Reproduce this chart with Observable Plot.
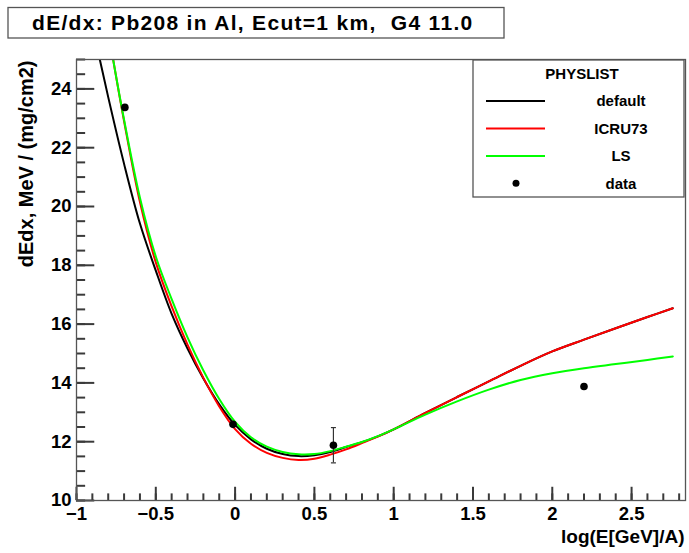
<!DOCTYPE html>
<html><head><meta charset="utf-8">
<script src="https://cdn.jsdelivr.net/npm/d3@7"></script>
<script src="https://cdn.jsdelivr.net/npm/@observablehq/plot@0.6"></script>
<style>body{margin:0;background:#fff} #chart{position:relative;width:689px;height:553px}</style>
</head><body><div id="chart"></div>
<script>
const titleText = "dE/dx: Pb208 in Al, Ecut=1 km,  G4 11.0";
const xLabel = "log(E[GeV]/A)";
const yLabel = "dEdx, MeV / (mg/cm2)";
const legendTitle = "PHYSLIST";
const seriesNames = ["default", "ICRU73", "LS"];
const seriesColors = ["#000000", "#ff0000", "#00ff00"];
const dataName = "data";

const defaultX = [-0.9, -0.853, -0.8, -0.7, -0.6, -0.5, -0.4, -0.3, -0.2, -0.1, 0, 0.1, 0.2, 0.3, 0.4, 0.5, 0.6, 0.7, 0.8, 0.9, 1.0, 1.2, 1.4, 1.6, 1.8, 2.0, 2.2, 2.4, 2.6, 2.76];
const defaultY = [26.1, 25.0, 23.72, 21.45, 19.42, 17.82, 16.35, 15.17, 14.15, 13.27, 12.57, 12.08, 11.76, 11.58, 11.51, 11.54, 11.65, 11.82, 11.98, 12.18, 12.42, 12.98, 13.52, 14.05, 14.58, 15.07, 15.47, 15.86, 16.24, 16.54];
const icruX = [-0.8, -0.769, -0.7, -0.6, -0.5, -0.4, -0.3, -0.2, -0.1, 0, 0.1, 0.2, 0.3, 0.4, 0.5, 0.6, 0.7, 0.8, 0.9, 1.0, 1.2, 1.4, 1.6, 1.8, 2.0, 2.2, 2.4, 2.6, 2.76];
const icruY = [26.0, 25.0, 22.9, 20.15, 18.1, 16.6, 15.3, 14.17, 13.2, 12.43, 11.93, 11.62, 11.45, 11.38, 11.42, 11.56, 11.74, 11.95, 12.17, 12.42, 12.98, 13.52, 14.05, 14.58, 15.07, 15.47, 15.86, 16.24, 16.54];
const lsX = [-0.8, -0.769, -0.7, -0.6, -0.5, -0.4, -0.3, -0.2, -0.1, 0, 0.1, 0.2, 0.3, 0.4, 0.5, 0.6, 0.7, 0.8, 0.9, 1.0, 1.2, 1.4, 1.6, 1.8, 2.0, 2.2, 2.4, 2.6, 2.76];
const lsY = [26.0, 25.0, 22.95, 20.3, 18.3, 16.85, 15.55, 14.42, 13.45, 12.67, 12.15, 11.83, 11.65, 11.57, 11.58, 11.68, 11.83, 11.99, 12.19, 12.42, 12.92, 13.37, 13.77, 14.1, 14.33, 14.5, 14.64, 14.78, 14.9];

const dataX = [-0.695, -0.013, 0.62, 2.2];
const dataY = [23.37, 12.59, 11.88, 13.88];
const dataErr = [0, 0, 0.6, 0];

const xTicks = [-1, -0.5, 0, 0.5, 1, 1.5, 2, 2.5];
const yTicks = [10, 12, 14, 16, 18, 20, 22, 24];
const xDomain = [-1, 2.84];
const yDomain = [10, 25];

const W = 689, H = 553, mL = 76, mT = 59, mR = 4, mB = 53;
const fW = W - mL - mR, fH = H - mT - mB;
const xMajLen = 0.03 * fH, yMajLen = 0.03 * fW;          // tick lengths in pixels
const yPerPx = (yDomain[1] - yDomain[0]) / fH, xPerPx = (xDomain[1] - xDomain[0]) / fW;
const font = "'Liberation Sans', Arial, Helvetica, sans-serif";
const frameColor = "#555";

const xs = [defaultX, icruX, lsX], ys = [defaultY, icruY, lsY];
const curves = seriesNames.flatMap((name, i) => xs[i].map((x, j) => ({name, x, y: ys[i][j]})));
const points = dataX.map((x, i) => ({x, y: dataY[i], e: dataErr[i]}));
const errPts = points.filter(d => d.e > 0);
const xMinor = d3.range(-1, 2.8401, 0.1).map(v => +v.toFixed(2));
const yMinor = d3.range(10, 25.001, 0.5);
const fmt = d => d < 0 ? "\u2212" + Math.abs(d) : String(d);

const capSymbol = {draw(ctx, size) { const r = Math.sqrt(size / Math.PI); ctx.moveTo(-r, 0); ctx.lineTo(r, 0); }};

const plot = Plot.plot({
  width: W, height: H, marginLeft: mL, marginTop: mT, marginRight: mR, marginBottom: mB,
  x: {domain: xDomain},
  y: {domain: yDomain},
  color: {domain: seriesNames, range: seriesColors},
  style: {fontFamily: font, fontWeight: "bold", color: "#000", background: "#fff", overflow: "visible"},
  marks: [
    Plot.ruleX(xMinor, {x: d => d, y1: yDomain[0], y2: yDomain[0] + xMajLen / 2 * yPerPx, stroke: "#3a3a3a", strokeWidth: 2}),
    Plot.ruleX(xTicks, {x: d => d, y1: yDomain[0], y2: yDomain[0] + xMajLen * yPerPx, stroke: "#3a3a3a", strokeWidth: 2}),
    Plot.ruleY(yMinor, {y: d => d, x1: xDomain[0], x2: xDomain[0] + yMajLen / 2 * xPerPx, stroke: "#3a3a3a", strokeWidth: 2}),
    Plot.ruleY(yTicks, {y: d => d, x1: xDomain[0], x2: xDomain[0] + yMajLen * xPerPx, stroke: "#3a3a3a", strokeWidth: 2}),
    Plot.line(curves, {x: "x", y: "y", z: "name", stroke: "name", strokeWidth: 2, curve: "catmull-rom", clip: true}),
    Plot.ruleX(errPts, {x: "x", y1: d => d.y - d.e, y2: d => d.y + d.e, stroke: "#333", strokeWidth: 1.2}),
    Plot.dot(errPts.flatMap(d => [{x: d.x, y: d.y - d.e}, {x: d.x, y: d.y + d.e}]), {x: "x", y: "y", symbol: capSymbol, r: 2.5, stroke: "#333", strokeWidth: 1.2, fill: "none"}),
    Plot.dot(points, {x: "x", y: "y", r: 3.8, fill: "#000", stroke: null}),
    Plot.frame({stroke: frameColor, strokeWidth: 1.3}),
    Plot.axisX({ticks: xTicks, tickSize: 0, tickPadding: 6, fontSize: 18.5, tickFormat: fmt, label: null}),
    Plot.axisY({ticks: yTicks, tickSize: 0, tickPadding: 5, fontSize: 18.5, tickFormat: fmt, label: null}),
    Plot.text([xLabel], {frameAnchor: "bottom-right", dx: -1, dy: 42, textAnchor: "end", fontSize: 19}),
    Plot.text([yLabel], {frameAnchor: "top-left", dx: -58, dy: 1, rotate: -90, textAnchor: "end", fontSize: 20})
  ]
});

const svg = d3.select(plot);
// title box
const tg = svg.append("g");
tg.append("rect").attr("x", 8).attr("y", 7.5).attr("width", 496).attr("height", 30.5)
  .attr("fill", "#fff").attr("stroke", frameColor).attr("stroke-width", 1.3);
tg.append("text").attr("x", 32).attr("y", 29.5).attr("font-size", 21).attr("letter-spacing", 1.3)
  .attr("text-anchor", "start")
  .attr("font-family", font).attr("font-weight", "bold").attr("fill", "#000").text(titleText);

// legend
const lx = 473, ly = 60, lw = 211, lh = 137, rowH = lh / 5;
const lg = svg.append("g").attr("font-family", font).attr("font-weight", "bold").attr("font-size", 15);
lg.append("rect").attr("x", lx).attr("y", ly).attr("width", lw).attr("height", lh)
  .attr("fill", "#fff").attr("stroke", frameColor).attr("stroke-width", 1.3);
lg.append("text").attr("x", 582).attr("y", ly + rowH * 0.5).attr("dy", "0.35em").attr("text-anchor", "middle").text(legendTitle);
seriesNames.forEach((n, i) => {
  const cy = ly + rowH * (i + 1.5);
  lg.append("line").attr("x1", 486).attr("x2", 545).attr("y1", cy).attr("y2", cy).attr("stroke", seriesColors[i]).attr("stroke-width", 2);
  lg.append("text").attr("x", 621).attr("y", cy).attr("dy", "0.35em").attr("text-anchor", "middle").text(n);
});
{
  const cy = ly + rowH * 4.5;
  lg.append("circle").attr("cx", 516).attr("cy", cy).attr("r", 3.5).attr("fill", "#000");
  lg.append("text").attr("x", 621).attr("y", cy).attr("dy", "0.35em").attr("text-anchor", "middle").text(dataName);
}

document.getElementById("chart").appendChild(plot);
</script>
</body></html>
